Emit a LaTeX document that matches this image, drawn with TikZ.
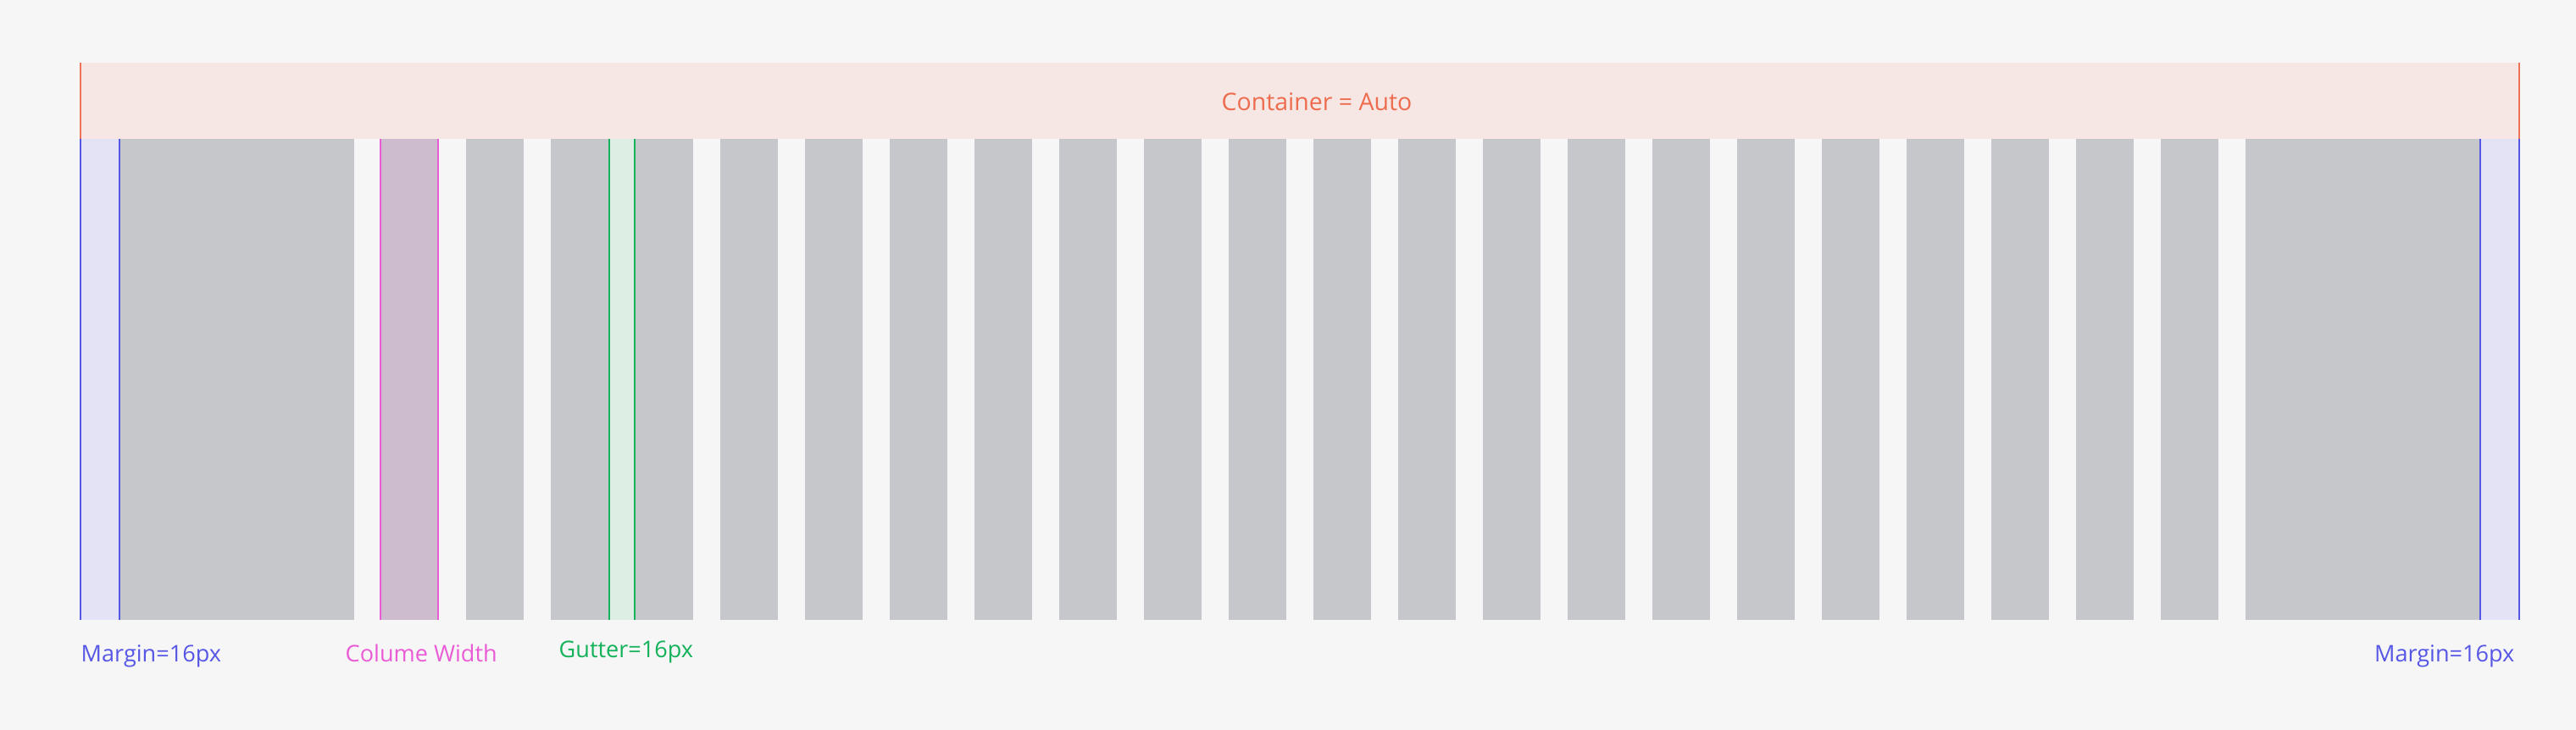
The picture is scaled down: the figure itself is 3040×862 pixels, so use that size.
\documentclass[tikz,border=0pt]{standalone}
\usepackage{fontspec}
\setmainfont{Open Sans}
\definecolor{bg}{HTML}{F6F6F6}
\definecolor{contfill}{HTML}{F6E6E4}
\definecolor{contline}{HTML}{EE7356}
\definecolor{conttext}{HTML}{EE6C4E}
\definecolor{colgray}{HTML}{C6C7CA}
\definecolor{marfill}{HTML}{E4E3F6}
\definecolor{marline}{HTML}{5757E6}
\definecolor{magline}{HTML}{EA5CD6}
\definecolor{magfill}{HTML}{CDBBCE}
\definecolor{grnline}{HTML}{14B25A}
\definecolor{grnfill}{HTML}{DDEFE4}
\begin{document}
\begin{tikzpicture}[x=0.01cm,y=-0.01cm,
  guide/.style={line width=0.02cm},
  lbl/.style={inner sep=0pt,font=\fontsize{7.7pt}{9pt}\selectfont}]
\fill[bg] (0,0) rectangle (3040,862);
\useasboundingbox (0,0) rectangle (3040,862);
% container
\fill[contfill] (94,74) rectangle (2974,164);
\draw[guide,contline] (95,74) -- (95,164);
\draw[guide,contline] (2973,74) -- (2973,164);
\node[lbl,font=\fontsize{8.1pt}{10pt}\selectfont,text=conttext,anchor=base] (cont) at (1554,131) {Container = Auto};
% margins
\fill[marfill] (94,164) rectangle (141,732);
\draw[guide,marline] (95,164) -- (95,732);
\draw[guide,marline] (141,164) -- (141,732);
\fill[marfill] (2927,164) rectangle (2974,732);
\draw[guide,marline] (2927,164) -- (2927,732);
\draw[guide,marline] (2973,164) -- (2973,732);
% wide columns
\fill[colgray] (142,164) rectangle (418,732);
\fill[colgray] (2650,164) rectangle (2926,732);
% regular columns
\foreach \k in {5,...,25} \fill[colgray] (50+100*\k,164) rectangle (118+100*\k,732);
% column width highlight
\fill[magfill] (449,164) rectangle (517,732);
\draw[guide,magline] (449,164) -- (449,732);
\draw[guide,magline] (517,164) -- (517,732);
% gutter highlight
\fill[grnfill] (719,164) rectangle (749,732);
\draw[guide,grnline] (719,164) -- (719,732);
\draw[guide,grnline] (749,164) -- (749,732);
% labels
\node[lbl,text=marline,anchor=base west] (ml) at (95,782) {Margin=16px};
\node[lbl,text=magline,anchor=base west] (cw) at (407,782) {Colume Width};
\node[lbl,text=grnline,anchor=base west] (gt) at (659,777) {Gutter=16px};
\node[lbl,text=marline,anchor=base east] (mr) at (2968,782) {Margin=16px};
\end{tikzpicture}
\end{document}
